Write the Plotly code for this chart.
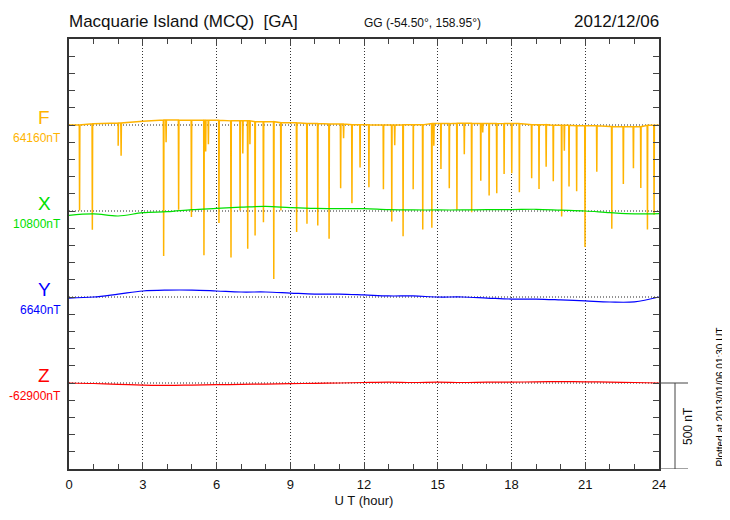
import plotly.graph_objects as go

# ---------------- data (nT) ----------------
hours = list(range(0, 25))

F_base, X_base, Y_base, Z_base = 64160, 10800, 6640, -62900

F_hourly = [64160, 64167, 64172, 64182, 64189, 64188, 64187, 64184, 64179, 64173,
            64169, 64166, 64162, 64160, 64161, 64168, 64170, 64169, 64168, 64162,
            64158, 64156, 64151, 64150, 64158]
X_hourly = [10775, 10783, 10771, 10790, 10796, 10808, 10815, 10822, 10827, 10820,
            10815, 10814, 10814, 10808, 10806, 10806, 10806, 10808, 10808, 10810,
            10805, 10800, 10790, 10783, 10785]
Y_hourly = [6634, 6640, 6657, 6675, 6680, 6680, 6675, 6669, 6669, 6663,
            6657, 6657, 6652, 6646, 6646, 6640, 6640, 6634, 6628, 6628,
            6623, 6617, 6611, 6612, 6640]
Z_hourly = [-62900, -62903, -62908, -62912, -62914, -62912, -62910, -62908, -62906, -62904,
            -62902, -62900, -62897, -62895, -62897, -62895, -62897, -62895, -62895, -62893,
            -62892, -62893, -62895, -62897, -62900]

F_spike_hours = [0.43, 0.95, 2.00, 2.12, 3.85, 3.95, 4.46, 4.98, 5.49, 5.56, 5.67,
                 6.10, 6.59, 6.96, 7.07, 7.27, 7.36, 7.57, 7.91, 8.33, 8.62, 9.26,
                 9.68, 10.12, 10.58, 11.05, 11.17, 11.51, 11.84, 12.20, 12.79, 13.13,
                 13.25, 13.59, 14.00, 14.39, 14.76, 14.84, 15.13, 15.47, 15.78, 16.08,
                 16.38, 16.75, 16.83, 17.09, 17.40, 17.70, 18.01, 18.32, 18.82, 19.12,
                 19.41, 19.70, 20.04, 20.15, 20.34, 20.65, 20.99, 21.47, 22.08, 22.55,
                 22.96, 23.26, 23.53, 23.80]
F_spike_min = [63663, 63551, 64039, 63981, 63399, 64060, 63667, 63625, 63403, 64006, 64048,
               63590, 63390, 63663, 63994, 63441, 64048, 63518, 63595, 63264, 63663, 63538,
               63586, 63576, 63499, 63792, 64083, 63705, 63913, 63798, 63786, 63599,
               64042, 63513, 63786, 63553, 63563, 64039, 63904, 63792, 63667, 63990,
               63653, 63836, 64116, 63750, 63763, 63875, 63879, 63769, 63850, 63788,
               63917, 63833, 63628, 64010, 63802, 63775, 63451, 63888, 63557, 63817,
               63908, 63794, 63553, 63638]

components = ["F", "X", "Y", "Z"]
base_labels = ["64160nT", "10800nT", "6640nT", "-62900nT"]
colors = ["#FFB400", "#00E000", "#0000FF", "#FF0000"]
offsets = [2000, 1500, 1000, 500]   # plot position of each baseline
bases = [F_base, X_base, Y_base, Z_base]
series = [F_hourly, X_hourly, Y_hourly, Z_hourly]

x_ticks = [0, 3, 6, 9, 12, 15, 18, 21, 24]

# ---------------- figure ----------------
fig = go.Figure()

# F: hourly level merged with spikes
pts = [(h, v) for h, v in zip(hours, F_hourly)]
for t, m in zip(F_spike_hours, F_spike_min):
    top = F_hourly[int(round(t))]
    pts += [(t - 0.012, top), (t, m), (t + 0.012, top)]
pts.sort(key=lambda p: p[0])
fig.add_trace(go.Scatter(
    x=[p[0] for p in pts],
    y=[p[1] - F_base + offsets[0] for p in pts],
    mode="lines", line=dict(color=colors[0], width=1.5), hoverinfo="skip"))

for k in range(1, 4):
    fig.add_trace(go.Scatter(
        x=hours, y=[v - bases[k] + offsets[k] for v in series[k]],
        mode="lines", line=dict(color=colors[k], width=1.2, shape="spline"),
        hoverinfo="skip"))

DOT = "1px,2px"
shapes = []
for off in offsets:
    shapes.append(dict(type="line", xref="paper", x0=0, x1=1, y0=off, y1=off,
                       line=dict(color="#222", width=1, dash=DOT), layer="below"))
# 500 nT scale bar
pw = 590.0
shapes += [
    dict(type="line", xref="paper", x0=1, x1=1 + 29 / pw, y0=500, y1=500,
         line=dict(color="#444", width=1)),
    dict(type="line", xref="paper", x0=1, x1=1 + 29 / pw, y0=0, y1=0,
         line=dict(color="#444", width=1)),
    dict(type="line", xref="paper", x0=1 + 16 / pw, x1=1 + 16 / pw, y0=0, y1=500,
         line=dict(color="#444", width=1)),
]

ann = []
for k in range(4):
    ann.append(dict(xref="paper", x=0, xanchor="center", xshift=-25,
                    y=offsets[k] + 42, yanchor="middle", text=components[k],
                    showarrow=False, font=dict(size=19, color=colors[k])))
    ann.append(dict(xref="paper", x=0, xanchor="right", xshift=-6,
                    y=offsets[k] - 76, yanchor="middle", text=base_labels[k],
                    showarrow=False, font=dict(size=12, color=colors[k])))

ann += [
    dict(xref="paper", yref="paper", x=0, y=1, xanchor="left", yanchor="bottom",
         xshift=-2, yshift=6, text="Macquarie Island (MCQ)\u00a0 [GA]", showarrow=False,
         font=dict(size=17, color="#111")),
    dict(xref="paper", yref="paper", x=(422 - 69) / pw, y=1, xanchor="center",
         yanchor="bottom", yshift=7, text="GG (-54.50°, 158.95°)", showarrow=False,
         font=dict(size=12, color="#111")),
    dict(xref="paper", yref="paper", x=1, y=1, xanchor="right", yanchor="bottom",
         xshift=2, yshift=6, text="2012/12/06", showarrow=False,
         font=dict(size=17, color="#111")),
    dict(xref="paper", x=1 + 29 / pw, y=250, xanchor="center", yanchor="middle",
         text="500 nT", textangle=-90, showarrow=False, font=dict(size=12, color="#111")),
    dict(xref="paper", yref="paper", x=1 + 61 / pw, y=0, xanchor="center",
         yanchor="bottom", text="Plotted at 2013/01/06 01:30 UT", textangle=-90,
         showarrow=False, font=dict(size=10, color="#000")),
]

# page body has an 8px margin: shrink the figure so the plot lands where the reference has it
fig.update_layout(
    width=722, height=512, margin=dict(l=61, r=71, t=31, b=51),
    paper_bgcolor="white", plot_bgcolor="white", showlegend=False,
    font=dict(family="Liberation Sans, Arial, sans-serif", color="#111"),
    shapes=shapes, annotations=ann,
    xaxis=dict(range=[0, 24], tickvals=x_ticks, ticks="inside", ticklen=7,
               tickcolor="#444", showline=True, linecolor="#333", linewidth=1.5,
               mirror="ticks", showgrid=True, gridcolor="#333", griddash=DOT,
               gridwidth=1, zeroline=False, tickfont=dict(size=13),
               ticklabelstandoff=3,
               minor=dict(dtick=1, ticks="inside", ticklen=5, tickcolor="#444",
                          showgrid=False),
               title=dict(text="U T (hour)", font=dict(size=13), standoff=5)),
    yaxis=dict(range=[0, 2500], dtick=100, ticks="inside", ticklen=6,
               tickcolor="#444", showticklabels=False, showline=True,
               linecolor="#333", linewidth=1.5, mirror="ticks", showgrid=False,
               zeroline=False),
)

fig.write_html("out.html")
